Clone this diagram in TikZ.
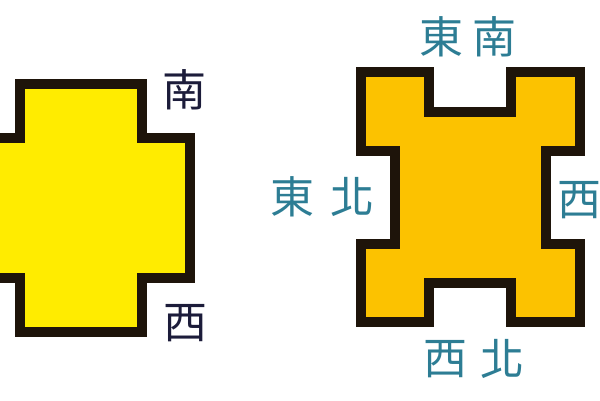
\documentclass[tikz,border=0pt]{standalone}
\usepackage{fontspec}
\newfontfamily\cjk{Noto Sans CJK TC}
\definecolor{lemon}{RGB}{255,236,0}
\definecolor{amber}{RGB}{252,194,0}
\definecolor{rim}{RGB}{30,20,10}
\definecolor{navy}{RGB}{28,28,58}
\definecolor{teal}{RGB}{45,125,148}
\tikzset{
  shapeline/.style={draw=rim, line width=10pt, miter limit=10, line join=miter},
  darkchar/.style={font=\cjk\fontsize{44}{44}\selectfont, text=navy, inner sep=0pt},
  tealchar/.style={font=\cjk\fontsize{44}{44}\selectfont, text=teal, inner sep=0pt}
}
\begin{document}
\begin{tikzpicture}[x=1pt,y=-1pt]
\useasboundingbox (0,0) rectangle (600,400);
\clip (0,0) rectangle (600,400);
% left cross
\path[shapeline, fill=lemon] (20,84) -- (142,84) -- (142,138) -- (190,138) -- (190,278) -- (142,278) -- (142,332) -- (20,332) -- (20,278) -- (-20,278) -- (-20,138) -- (20,138) -- cycle;
% right shape
\path[shapeline, fill=amber] (361,72) -- (429,72) -- (429,112) -- (511,112) -- (511,72) -- (580,72) -- (580,151) -- (546,151) -- (546,244) -- (580,244) -- (580,322) -- (511,322) -- (511,283) -- (429,283) -- (429,322) -- (361,322) -- (361,244) -- (395,244) -- (395,151) -- (361,151) -- cycle;
% labels left
\node[darkchar] (nan1) at (184,90) {南};
\node[darkchar] (xi1) at (185,323) {西};
% labels right
\node[tealchar] (dong1) at (441,37) {東};
\node[tealchar] (nan2) at (494,37) {南};
\node[tealchar] (dong2) at (292,197) {東};
\node[tealchar] (bei1) at (352,197) {北};
\node[tealchar] (xi2) at (579,200) {西};
\node[tealchar] (xi3) at (445,359) {西};
\node[tealchar] (bei2) at (502,359) {北};
\end{tikzpicture}
\end{document}
